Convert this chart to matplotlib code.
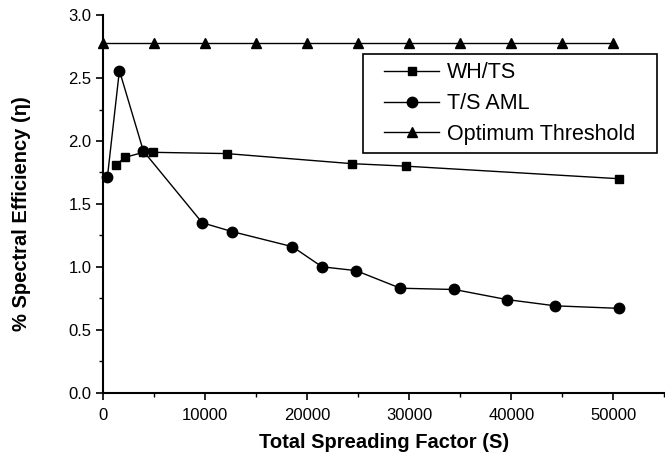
import matplotlib
matplotlib.use("Agg")
import matplotlib.pyplot as plt
from matplotlib.ticker import MultipleLocator
from matplotlib.patches import Rectangle

# Data
whts_x = [1270, 2150, 3950, 4860, 12100, 24360, 29680, 50590]
whts_y = [1.81, 1.87, 1.91, 1.91, 1.90, 1.82, 1.80, 1.70]

tsaml_x = [420, 1600, 3950, 9720, 12650, 18560, 21460, 24790, 29130, 34410, 39560, 44320, 50590]
tsaml_y = [1.71, 2.56, 1.92, 1.35, 1.28, 1.16, 1.00, 0.97, 0.83, 0.82, 0.74, 0.69, 0.67]

opt_x = [0, 5000, 10000, 15000, 20000, 25000, 30000, 35000, 40000, 45000, 50000]
opt_y = [2.78] * 11

xticks = [0, 10000, 20000, 30000, 40000, 50000]
yticks = [0.0, 0.5, 1.0, 1.5, 2.0, 2.5, 3.0]

plt.rcParams['font.family'] = ['Liberation Sans', 'DejaVu Sans']

fig = plt.figure(figsize=(6.65, 4.59), dpi=100)
ax = fig.add_axes([0.155, 0.1445, 0.844, 0.8225])

ax.plot(whts_x, whts_y, '-s', color='black', lw=1.0, ms=6, label='WH/TS', clip_on=False)
ax.plot(tsaml_x, tsaml_y, '-o', color='black', lw=1.0, ms=7.5, label='T/S AML', clip_on=False)
ax.plot(opt_x, opt_y, '-^', color='black', lw=1.0, ms=7.5, label='Optimum Threshold', clip_on=False)

ax.set_xlim(0, 55000)
ax.set_ylim(0, 3.0)
ax.set_xticks(xticks)
ax.set_xticklabels([str(v) for v in xticks])
ax.set_yticks(yticks)
ax.set_yticklabels([f"{v:.1f}" for v in yticks])
ax.xaxis.set_minor_locator(MultipleLocator(5000))
ax.yaxis.set_minor_locator(MultipleLocator(0.25))

for s in ['top', 'right']:
    ax.spines[s].set_visible(False)
for s in ['left', 'bottom']:
    ax.spines[s].set_linewidth(1.5)

ax.tick_params(axis='both', which='major', direction='out', length=5, width=1.2, labelsize=12)
ax.tick_params(axis='x', which='major', pad=6)
ax.tick_params(axis='both', which='minor', direction='out', length=3, width=1.0)

ax.set_xlabel('Total Spreading Factor (S)', fontsize=14.5, fontweight='bold', labelpad=7)
ax.set_ylabel('% Spectral Efficiency (η)', fontsize=14.5, fontweight='bold', labelpad=27)
ax.yaxis.label.set_y(0.475)

leg = ax.legend(loc='upper right', bbox_to_anchor=(0.963, 0.897), fontsize=15.5,
                frameon=False, handlelength=2.55,
                borderpad=0.39, labelspacing=0.45, handletextpad=0.35, borderaxespad=0.0)

# draw a frame around the legend with wider horizontal padding
fig.canvas.draw()
bb = leg.get_window_extent()
padx = 13
inv = fig.transFigure.inverted()
(x0, y0) = inv.transform((bb.x0 - padx, bb.y0))
(x1, y1) = inv.transform((bb.x1 + padx, bb.y1))
fig.patches.append(Rectangle((x0, y0), x1 - x0, y1 - y0, transform=fig.transFigure,
                             fill=False, edgecolor='black', linewidth=1.2, zorder=5))

fig.savefig('out.png', dpi=100)
